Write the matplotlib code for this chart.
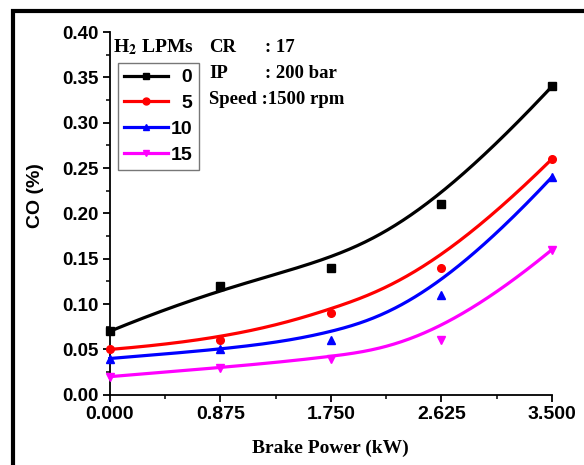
import numpy as np
import matplotlib
matplotlib.use("Agg")
import matplotlib.pyplot as plt
from matplotlib.patches import Rectangle

brake_power = [0.0, 0.875, 1.75, 2.625, 3.5]
co_h2_0 = [0.07, 0.12, 0.14, 0.21, 0.34]
co_h2_5 = [0.05, 0.06, 0.09, 0.14, 0.26]
co_h2_10 = [0.04, 0.05, 0.06, 0.11, 0.24]
co_h2_15 = [0.02, 0.03, 0.04, 0.06, 0.16]
series_labels = ["0", "5", "10", "15"]
colors = ["#000000", "#ff0000", "#0000ff", "#ff00ff"]
markers = ["s", "o", "^", "v"]


def bspline(px, py, k=3, num=300):
    px = np.asarray(px, float)
    py = np.asarray(py, float)
    n = len(px)
    inner = np.linspace(0, 1, n - k + 1)[1:-1]
    knots = np.concatenate([np.zeros(k + 1), inner, np.ones(k + 1)])
    t = np.linspace(0, 1, num)
    t[-1] = 1 - 1e-12
    B = np.zeros((num, len(knots) - 1))
    for i in range(len(knots) - 1):
        B[:, i] = (t >= knots[i]) & (t < knots[i + 1])
    for d in range(1, k + 1):
        Bn = np.zeros((num, len(knots) - 1 - d))
        for i in range(len(knots) - 1 - d):
            a = knots[i + d] - knots[i]
            b = knots[i + d + 1] - knots[i + 1]
            term = np.zeros(num)
            if a > 0:
                term += (t - knots[i]) / a * B[:, i]
            if b > 0:
                term += (knots[i + d + 1] - t) / b * B[:, i + 1]
            Bn[:, i] = term
        B = Bn
    return B @ px, B @ py


fig = plt.figure(figsize=(5.84, 4.65), dpi=100)
ax = fig.add_axes([0.188, 0.151, 0.757, 0.780])

handles = []
for ys, lab, c, m in zip([co_h2_0, co_h2_5, co_h2_10, co_h2_15], series_labels, colors, markers):
    cx, cy = bspline(brake_power, ys)
    ax.plot(cx, cy, color=c, lw=2.3, clip_on=False, zorder=3)
    ax.plot(brake_power, ys, ls="none", marker=m, color=c, ms=5.5, clip_on=False, zorder=4)
    h, = ax.plot([], [], color=c, lw=2.3, marker=m, ms=5)
    handles.append(h)

ax.set_xlim(0, 3.5)
ax.set_ylim(0, 0.40)
ax.set_xticks(brake_power)
ax.set_xticklabels(["0.000", "0.875", "1.750", "2.625", "3.500"],
                   fontweight="bold", family="Liberation Sans", fontsize=14)
yt = np.arange(0, 0.401, 0.05)
ax.set_yticks(yt)
ax.set_yticklabels(["%.2f" % v for v in yt], fontweight="bold", family="Liberation Sans", fontsize=13.5)
ax.set_xticks(np.arange(0.4375, 3.5, 0.875), minor=True)
ax.set_yticks(np.arange(0.025, 0.4, 0.05), minor=True)
for s in ["top", "right"]:
    ax.spines[s].set_visible(False)
for s in ["left", "bottom"]:
    ax.spines[s].set_linewidth(1.3)
ax.tick_params(which="major", direction="out", length=5, width=1.3, pad=3)
ax.tick_params(which="minor", direction="out", length=3, width=1.1)

ax.set_xlabel("Brake Power (kW)", fontsize=14, fontweight="bold", family="Liberation Serif", labelpad=12)
ax.set_ylabel("CO (%)", fontsize=14, fontweight="bold", family="Liberation Sans")
ax.yaxis.set_label_coords(-0.148, 0.55)

width = max(len(s) for s in series_labels)
leg_labels = [s.rjust(width, "\u2007") for s in series_labels]
leg = ax.legend(handles, leg_labels, loc="upper left", bbox_to_anchor=(0.018, 0.915),
                frameon=True, fancybox=False, edgecolor="#555555", handlelength=2.3,
                handletextpad=0.15, borderpad=0.3, labelspacing=0.42, borderaxespad=0,
                prop={"family": "Liberation Sans", "weight": "bold", "size": 14})
leg.get_frame().set_linewidth(1.0)

fig.text(0.193, 0.899, "H$_\\mathbf{2}$ LPMs", fontsize=14, fontweight="bold", family="Liberation Serif",
         va="center", ha="left", math_fontfamily="stix")
rows = [("CR", ": 17"), ("IP", ": 200 bar")]
for i, (a, b) in enumerate(rows):
    y = 0.897 - i * 0.055
    fig.text(0.358, y, a, fontsize=13.5, fontweight="bold", family="Liberation Serif", va="center")
    fig.text(0.453, y, b, fontsize=13.5, fontweight="bold", family="Liberation Serif", va="center")
fig.text(0.358, 0.897 - 2 * 0.055, "Speed :1500 rpm", fontsize=13.5, fontweight="bold",
         family="Liberation Serif", va="center")

fig.add_artist(Rectangle((0.022, -0.1), 1.2, 1.077, transform=fig.transFigure, fill=False,
                         edgecolor="black", lw=3))

fig.savefig("out.png", dpi=100)
